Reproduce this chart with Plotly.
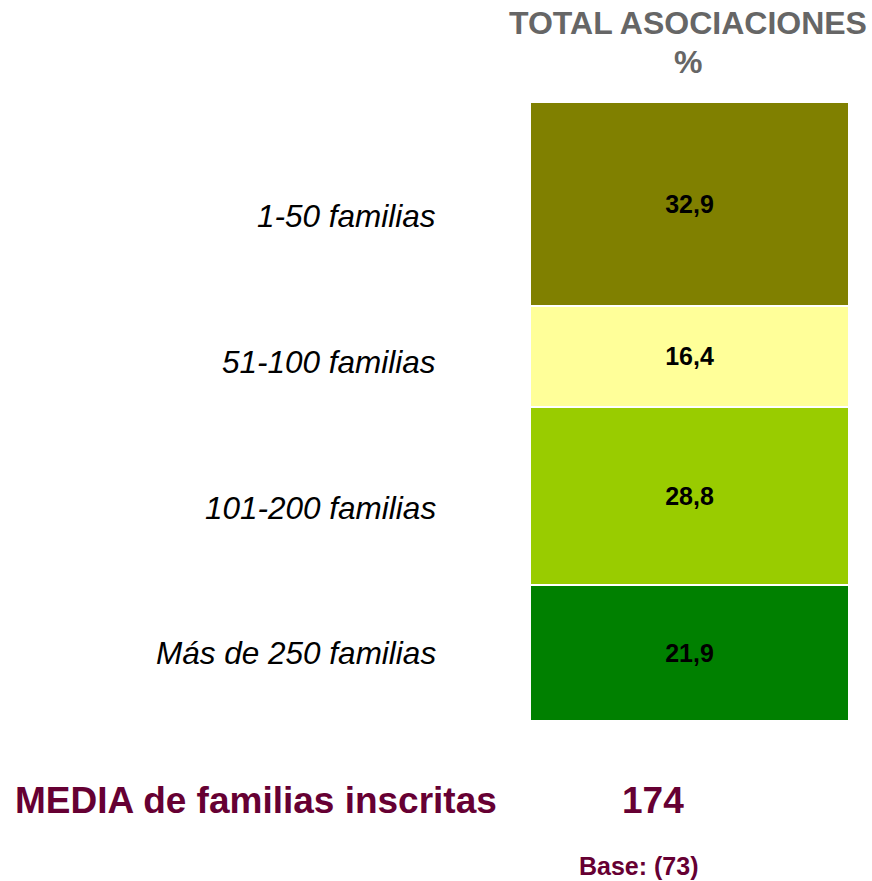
import plotly.graph_objects as go

# ---- data ----
categories = ["1-50 familias", "51-100 familias", "101-200 familias", "Más de 250 familias"]
values = [32.9, 16.4, 28.8, 21.9]
colors = ["#808000", "#FFFF99", "#99CC00", "#008000"]
column_label = "TOTAL"
title_lines = ["TOTAL ASOCIACIONES", "%"]
media_label = "MEDIA de familias inscritas"
media_value = "174"
base_label = "Base: (73)"

# ---- layout geometry (pixels) ----
W, H = 872, 881
L, R, T, B = 530, 23, 102, 160
PW, PH = W - L - R, H - T - B


def px(x):
    return (x - L) / PW


def py(y):
    return (H - B - y) / PH


FONT = "Liberation Sans, Arial, Helvetica, sans-serif"

fig = go.Figure()
for cat, val, col in zip(categories, values, colors):
    fig.add_trace(go.Bar(
        x=[column_label], y=[val], name=cat,
        marker=dict(color=col, line=dict(color="white", width=2)),
        width=1,
        texttemplate="%{y:.1f}", textposition="inside",
        insidetextanchor="middle", constraintext="none",
        textfont=dict(family=FONT, size=25, color="black", weight="bold"),
        showlegend=False, hoverinfo="skip",
    ))

annotations = []
label_y_px = [216, 362, 508, 653]
for cat, ly in zip(categories, label_y_px):
    annotations.append(dict(
        text=cat, xref="paper", yref="paper", x=px(438), y=py(ly),
        xanchor="right", yanchor="middle", showarrow=False,
        font=dict(family=FONT, size=31.5, color="black", style="italic"),
    ))

title_y_px = [23, 62]
for t, ty in zip(title_lines, title_y_px):
    annotations.append(dict(
        text=t, xref="paper", yref="paper", x=px(688), y=py(ty),
        xanchor="center", yanchor="middle", showarrow=False,
        font=dict(family=FONT, size=32, color="#666666", weight="bold"),
    ))

annotations.append(dict(
    text=media_label, xref="paper", yref="paper", x=px(13), y=py(800),
    xanchor="left", yanchor="middle", showarrow=False,
    font=dict(family=FONT, size=37, color="#660033", weight="bold"),
))
annotations.append(dict(
    text=media_value, xref="paper", yref="paper", x=px(653), y=py(800),
    xanchor="center", yanchor="middle", showarrow=False,
    font=dict(family=FONT, size=37, color="#660033", weight="bold"),
))
annotations.append(dict(
    text=base_label, xref="paper", yref="paper", x=px(639), y=py(866),
    xanchor="center", yanchor="middle", showarrow=False,
    font=dict(family=FONT, size=25, color="#660033", weight="bold"),
))

fig.update_layout(
    width=W, height=H,
    margin=dict(l=L, r=R, t=T, b=B, pad=0),
    barmode="stack",
    separators=",.",
    paper_bgcolor="white", plot_bgcolor="white",
    xaxis=dict(visible=False, range=[-0.5, 0.5], fixedrange=True),
    yaxis=dict(visible=False, range=[100, 0], fixedrange=True),
    annotations=annotations,
)

fig.write_html(
    "out.html",
    config={"displayModeBar": False},
    post_script="document.body.style.margin='0';document.body.style.overflow='hidden';",
)
